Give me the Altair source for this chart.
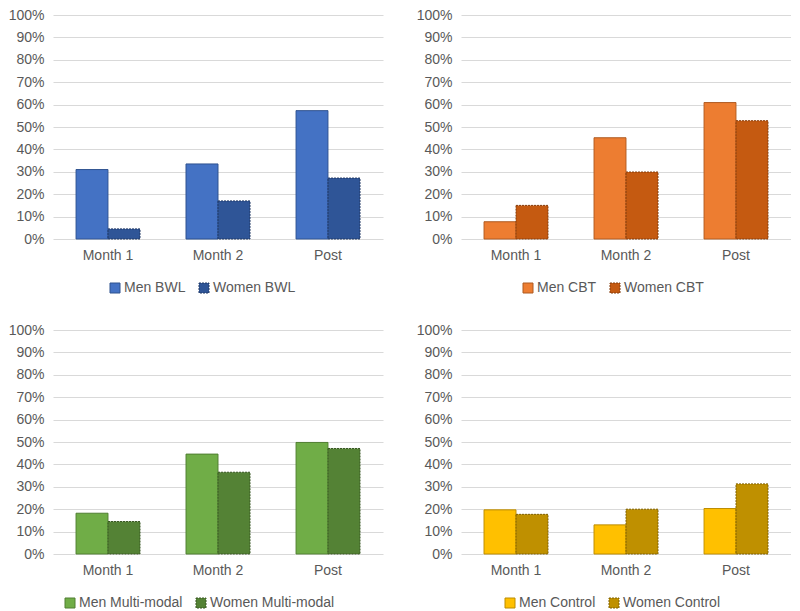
import altair as alt
import pandas as pd

periods = ["Month 1", "Month 2", "Post"]
y_ticks = [0, 0.1, 0.2, 0.3, 0.4, 0.5, 0.6, 0.7, 0.8, 0.9, 1.0]

bwl_men = [0.31, 0.335, 0.573]
bwl_women = [0.045, 0.17, 0.272]
cbt_men = [0.077, 0.452, 0.609]
cbt_women = [0.15, 0.299, 0.528]
mm_men = [0.182, 0.446, 0.498]
mm_women = [0.145, 0.365, 0.471]
ctl_men = [0.197, 0.13, 0.203]
ctl_women = [0.177, 0.20, 0.313]

FONT = "Liberation Sans"
TXT = "#595959"
BAR_W = 32


def panel(name, men, women, fills, strokes, legend_x):
    dom = [f"Men {name}", f"Women {name}"]
    df = pd.DataFrame({
        "Period": periods * 2,
        "Series": [dom[0]] * 3 + [dom[1]] * 3,
        "Value": men + women,
    })
    leg = alt.Legend(
        title=None, orient="none", direction="horizontal",
        legendX=legend_x, legendY=266,
        symbolType="square", symbolSize=100, symbolStrokeWidth=1,
        labelFont=FONT, labelFontSize=14, labelColor=TXT,
        columnPadding=11, labelOffset=2,
    )
    enc = dict(
        x=alt.X("Period:N", sort=periods,
                scale=alt.Scale(paddingInner=0.42, paddingOuter=0.21),
                axis=alt.Axis(title=None, labelAngle=0, ticks=False, domain=False,
                              grid=False, labelPadding=9, labelFont=FONT,
                              labelFontSize=14, labelColor=TXT)),
        y=alt.Y("Value:Q", scale=alt.Scale(domain=[0, 1]),
                axis=alt.Axis(values=y_ticks, format=".0%", title=None, ticks=False,
                              domain=False, labelPadding=9, gridColor="#d9d9d9",
                              gridWidth=1, labelFont=FONT, labelFontSize=14,
                              labelColor=TXT)),
        color=alt.Color("Series:N", sort=dom, scale=alt.Scale(domain=dom, range=fills), legend=leg),
        stroke=alt.Stroke("Series:N", sort=dom, scale=alt.Scale(domain=dom, range=strokes), legend=leg),
        strokeDash=alt.StrokeDash("Series:N", sort=dom,
                                  scale=alt.Scale(domain=dom, range=[[1, 0], [2, 1]]), legend=leg),
    )
    base = alt.Chart(df)
    men_layer = base.transform_filter(alt.datum.Series == dom[0]).mark_bar(
        strokeWidth=1, width=BAR_W, xOffset=-BAR_W / 2).encode(**enc)
    women_layer = base.transform_filter(alt.datum.Series == dom[1]).mark_bar(
        strokeWidth=1, width=BAR_W, xOffset=BAR_W / 2).encode(**enc)
    return alt.layer(men_layer, women_layer).properties(width=330, height=224)


p1 = panel("BWL", bwl_men, bwl_women, ["#4472C4", "#2F5597"], ["#2F528F", "#203864"], 55)
p2 = panel("CBT", cbt_men, cbt_women, ["#ED7D31", "#C55A11"], ["#AE5A21", "#843C0C"], 60)
p3 = panel("Multi-modal", mm_men, mm_women, ["#70AD47", "#548235"], ["#507E32", "#385723"], 10)
p4 = panel("Control", ctl_men, ctl_women, ["#FFC000", "#BF9000"], ["#BC8C00", "#7F6000"], 42)

row1 = alt.hconcat(p1, p2, spacing=33).resolve_scale(color="independent", stroke="independent", strokeDash="independent")
row2 = alt.hconcat(p3, p4, spacing=33).resolve_scale(color="independent", stroke="independent", strokeDash="independent")

chart = alt.vconcat(row1, row2, spacing=28).resolve_scale(
    color="independent", stroke="independent", strokeDash="independent"
).properties(padding=0, background="white").configure_view(stroke=None)

chart.save("out.html", embed_options={"renderer": "svg", "actions": False})
